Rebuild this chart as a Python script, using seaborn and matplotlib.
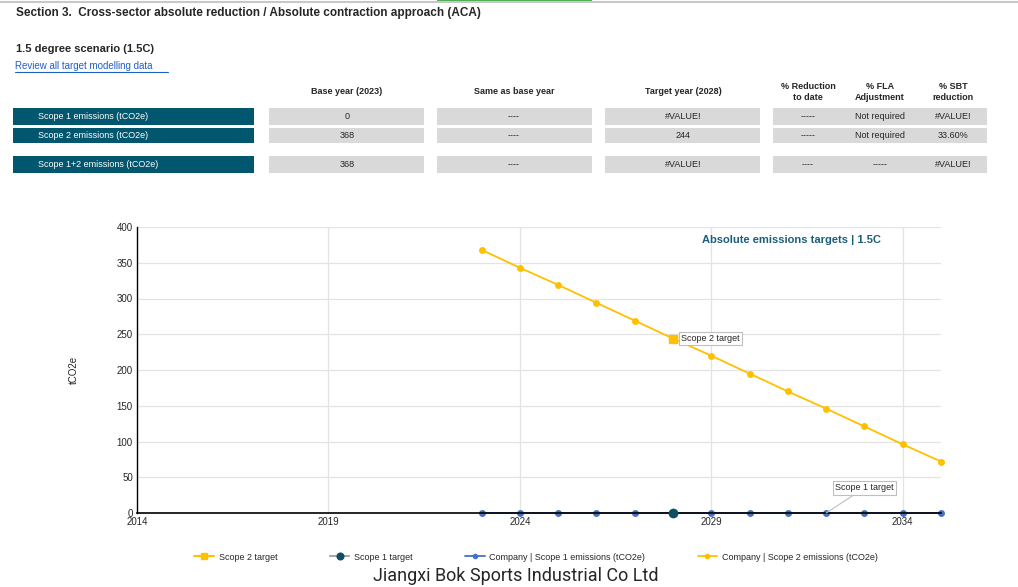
import matplotlib
matplotlib.use('Agg')
import matplotlib.pyplot as plt
import seaborn as sns
import pandas as pd
from matplotlib.patches import Rectangle

# Chart data
years = [2023, 2024, 2025, 2026, 2027, 2028, 2029, 2030, 2031, 2032, 2033, 2034, 2035]
scope2_emissions = [368, 343, 319, 294, 269, 244, 220, 195, 170, 146, 121, 96, 72]
scope1_emissions = [0, 0, 0, 0, 0, 0, 0, 0, 0, 0, 0, 0, 0]
target_year = [2028]
scope2_target = [244]
scope1_target = [0]
scope1_label_year = 2032
x_ticks = [2014, 2019, 2024, 2029, 2034]
y_ticks = [0, 50, 100, 150, 200, 250, 300, 350, 400]

# Summary table data
row_labels = ['Scope 1 emissions (tCO2e)', 'Scope 2 emissions (tCO2e)', 'Scope 1+2 emissions (tCO2e)']
col_headers = ['Base year (2023)', 'Same as base year', 'Target year (2028)',
               '% Reduction\nto date', '% FLA\nAdjustment', '% SBT\nreduction']
base_year = ['0', '368', '368']
same_as_base = ['----', '----', '----']
target_vals = ['#VALUE!', '244', '#VALUE!']
reduction_to_date = ['-----', '-----', '----']
fla_adjust = ['Not required', 'Not required', '-----']
sbt_reduction = ['#VALUE!', '33.60%', '#VALUE!']

df = pd.DataFrame({'year': years, 'scope1': scope1_emissions, 'scope2': scope2_emissions})

sns.set_style('white')
plt.rcParams['font.family'] = ['Liberation Sans', 'DejaVu Sans']

YELLOW = '#FFC000'
BLUE = '#4472C4'
TEAL = '#0E4F63'
HEAD = '#02566E'
GREY = '#D9D9D9'

W, H = 1018, 587
fig = plt.figure(figsize=(W / 100, H / 100), dpi=100)


def fx(px):
    return px / W


def fy(py):
    return 1 - py / H


# spreadsheet top strip
fig.add_artist(plt.Line2D([0, 1], [fy(1.5), fy(1.5)], color='#C8C8C8', lw=1.5))
fig.add_artist(Rectangle((fx(437), fy(3)), fx(155), 3 / H, color='#4CAF50', lw=0))

fig.text(fx(16), fy(13), 'Section 3.  Cross-sector absolute reduction / Absolute contraction approach (ACA)',
         fontsize=8.5, fontweight='bold', va='center', ha='left')
fig.text(fx(16), fy(49), '1.5 degree scenario (1.5C)', fontsize=8, fontweight='bold', va='center')
fig.text(fx(15), fy(66), 'Review all target modelling data', fontsize=7, color='#1F5FC8', va='center')
fig.add_artist(plt.Line2D([fx(15), fx(168)], [fy(72), fy(72)], color='#1F5FC8', lw=0.8))

# table
row_y = [(108, 125), (128, 143), (156, 173)]
col_spans = [(269, 424), (437, 592), (605, 760)]
col_centers = [347, 514, 683, 808, 880, 953]
for i, hdr in enumerate(col_headers):
    fig.text(fx(col_centers[i]), fy(92), hdr, fontsize=6.5, fontweight='bold',
             ha='center', va='center', linespacing=1.3)

cols = [base_year, same_as_base, target_vals, reduction_to_date, fla_adjust, sbt_reduction]
for r, (y0, y1) in enumerate(row_y):
    fig.add_artist(Rectangle((fx(13), fy(y1)), fx(241), (y1 - y0) / H, color=HEAD, lw=0))
    fig.text(fx(38), fy((y0 + y1) / 2), row_labels[r], fontsize=6.5, color='white', va='center')
    for (a, b) in col_spans:
        fig.add_artist(Rectangle((fx(a), fy(y1)), fx(b - a), (y1 - y0) / H, color=GREY, lw=0))
    fig.add_artist(Rectangle((fx(773), fy(y1)), fx(214), (y1 - y0) / H, color=GREY, lw=0))
    for c, vals in enumerate(cols):
        fig.text(fx(col_centers[c]), fy((y0 + y1) / 2), vals[r], fontsize=6.5, ha='center', va='center')

# chart
ax = fig.add_axes([fx(137), 1 - 513 / H, fx(941 - 137), (513 - 227) / H])
sns.lineplot(data=df, x='year', y='scope2', marker='o', color=YELLOW, lw=1.3,
             markersize=5, markeredgewidth=0, ax=ax, label='Company | Scope 2 emissions (tCO2e)',
             zorder=3, clip_on=False)
sns.lineplot(data=df, x='year', y='scope1', marker='o', color=BLUE, lw=1.3,
             markersize=5, markeredgewidth=0, ax=ax, label='Company | Scope 1 emissions (tCO2e)',
             zorder=3, clip_on=False)
ax.plot(target_year, scope2_target, marker='s', color=YELLOW, markersize=6, lw=1.5,
        label='Scope 2 target', zorder=4)
ax.plot(target_year, scope1_target, marker='o', color='#A6A6A6', markerfacecolor=TEAL,
        markeredgecolor=TEAL, markersize=6, lw=1.5, label='Scope 1 target', zorder=4, clip_on=False)

ax.set_xlim(2014, 2035)
ax.set_ylim(0, 400)
ax.set_xticks(x_ticks)
ax.set_yticks(y_ticks)
ax.grid(True, color='#E3E3E3', lw=0.9)
ax.set_axisbelow(True)
for s in ['top', 'right']:
    ax.spines[s].set_visible(False)
ax.spines['left'].set_color('black')
ax.spines['bottom'].set_color('black')
ax.spines['left'].set_linewidth(1)
ax.spines['bottom'].set_linewidth(1.2)
ax.spines['bottom'].set_zorder(3.5)
ax.tick_params(axis='both', labelsize=7, length=0, pad=3)
ax.set_xlabel('')
ax.set_ylabel('tCO2e', fontsize=7, labelpad=27)
ax.legend_.remove()

ax.text(2031.1, 382, 'Absolute emissions targets | 1.5C', fontsize=8, fontweight='bold',
        color='#1B5E7B', ha='center', va='center')

box = dict(boxstyle='square,pad=0.25', fc='white', ec='#BFBFBF', lw=0.8)
ax.annotate('Scope 2 target', xy=(target_year[0], scope2_target[0]), xytext=(6, 0),
            textcoords='offset points', fontsize=6.5, ha='left', va='center', bbox=box, zorder=6)
ax.annotate('Scope 1 target', xy=(scope1_label_year, scope1_target[0]), xytext=(2033.0, 35),
            textcoords='data', fontsize=6.5, ha='center', va='center', bbox=box, zorder=6,
            arrowprops=dict(arrowstyle='-', color='#BFBFBF', lw=0.8, shrinkA=0, shrinkB=0))

h, l = ax.get_legend_handles_labels()
order = ['Scope 2 target', 'Scope 1 target', 'Company | Scope 1 emissions (tCO2e)',
         'Company | Scope 2 emissions (tCO2e)']
hh = [h[l.index(o)] for o in order]
fig.legend(hh, order, loc='center', bbox_to_anchor=(fx(536), fy(557)), ncol=4, frameon=False,
           fontsize=6.5, columnspacing=5.8, handlelength=2.2, handletextpad=0.5, markerscale=0.8)

fig.text(fx(516), fy(576), 'Jiangxi Bok Sports Industrial Co Ltd', fontsize=13,
         family=['Roboto', 'DejaVu Sans'], ha='center', va='center')

fig.savefig('out.png', dpi=100)
